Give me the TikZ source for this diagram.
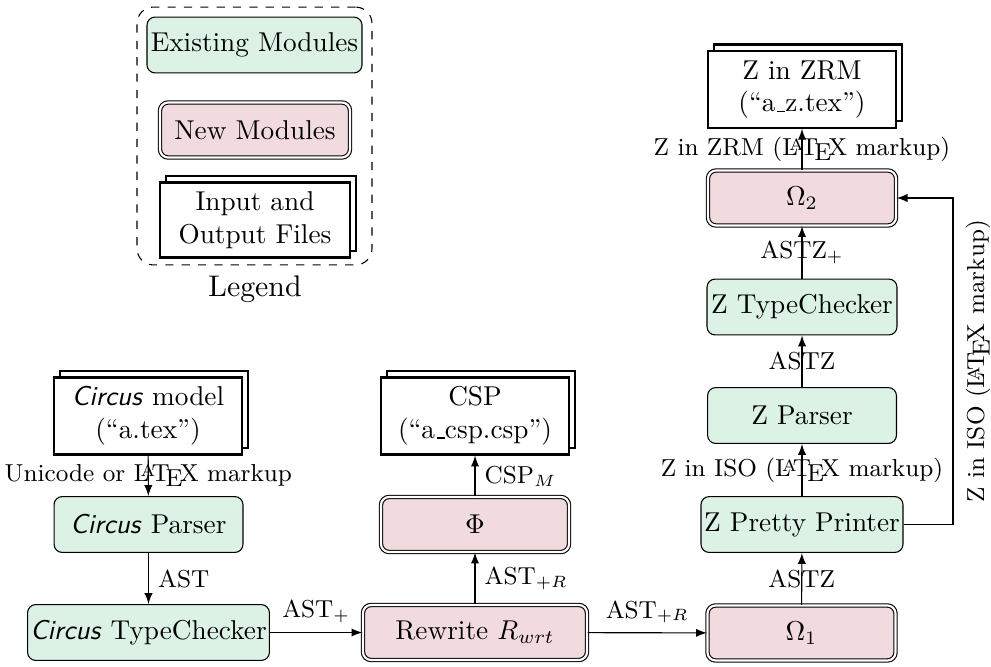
\documentclass[tikz,border=0pt]{standalone}
\usetikzlibrary{shadows,arrows}
\definecolor{modgreen}{RGB}{220,242,229}
\definecolor{modpink}{RGB}{242,219,222}
\newcommand{\CircusName}{\textsf{\textit{Circus}}}
% baseline rule used for underscores in file names
\newcommand{\ulbar}{\leavevmode\kern.06em\vbox{\hrule width.3em}}
\begin{document}
\begin{tikzpicture}[x=0.012887cm,y=-0.012887cm,
  oldmod/.style={draw, fill=modgreen, rounded corners=3pt, minimum height=20.5pt, inner xsep=1pt, align=center},
  newmod/.style={draw, double, double distance=0.8pt, fill=modpink, rounded corners=3pt, minimum height=20.2pt, inner xsep=1pt, align=center},
  iofile/.style={draw, thick, fill=white, minimum height=24.2pt, minimum width=69pt, inner xsep=1pt, align=center,
    copy shadow={shadow xshift=2.2pt, shadow yshift=2.5pt, draw, thick, fill=white}},
  flow/.style={-latex},
  edgelbl/.style={font=\small},
  onarrow/.style={edgelbl, midway, inner sep=1pt},
]
\useasboundingbox (0,0) rectangle (991,666);

% legend
\node[draw, dashed, rounded corners=6pt, minimum width=86.2pt, minimum height=94.6pt] (legendbox) at (254.5,136) {};
\node[oldmod, minimum width=78.9pt] (lgold) at (254.5,45) {Existing Modules};
\node[newmod, minimum width=69.7pt] (lgnew) at (255,130) {New Modules};
\node[iofile, minimum width=69.7pt] (lgio) at (255,220) {Input and\\Output Files};
\node[font=\fontsize{10.95}{13.6}\selectfont] (legendlabel) at (255,289) {Legend};

% Circus front end
\node[iofile] (cmodel) at (148,416) {\CircusName{} model\\(``a.tex'')};
\node[oldmod, minimum width=69.3pt] (cparser) at (148.5,524.5) {\CircusName{} Parser};
\node[oldmod, minimum width=88.4pt] (ctc) at (148.5,632.5) {\CircusName{} TypeChecker};

% rewriting and CSP translation
\node[newmod, minimum width=82.2pt] (rw) at (475,632.5) {Rewrite $R_{wrt}$};
\node[newmod, minimum width=69pt] (phi) at (475,524.5) {$\Phi$};
\node[iofile] (csp) at (475,416) {CSP\\(``a\ulbar csp.csp'')};

% Z pipeline
\node[newmod, minimum width=69pt] (o1) at (801.5,633) {$\Omega_1$};
\node[oldmod, minimum width=74.1pt] (zpp) at (802,524.5) {Z Pretty Printer};
\node[oldmod, minimum width=69.3pt] (zp) at (802,415.5) {Z Parser};
\node[oldmod, minimum width=69.7pt] (ztc) at (802,307) {Z TypeChecker};
\node[newmod, minimum width=69pt] (o2) at (802,198) {$\Omega_2$};
\node[iofile] (zrm) at (802,89.5) {Z in ZRM\\(``a\ulbar z.tex'')};

\coordinate (rail) at (953,0);

% connectors
\draw[flow] (cmodel) -- (cparser) node[onarrow] {Unicode or \LaTeX{} markup};
\draw[flow] (cparser) -- (ctc) node[edgelbl, midway, right] {AST};
\draw[flow] (ctc) -- (rw) node[edgelbl, midway, above] {AST$_+$};
\draw[flow] (rw) -- (phi) node[edgelbl, midway, right] {AST$_{+R}$};
\draw[flow] (phi) -- (csp) node[edgelbl, midway, right] {CSP$_M$};
\draw[flow] (rw) -- (o1) node[edgelbl, midway, above] {AST$_{+R}$};
\draw[flow] (o1) -- (zpp) node[onarrow] {ASTZ};
\draw[flow] (zpp) -- (zp) node[onarrow] {Z in ISO (\LaTeX{} markup)};
\draw[flow] (zp) -- (ztc) node[onarrow] {ASTZ};
\draw[flow] (ztc) -- (o2) node[onarrow] {ASTZ$_+$};
\draw[flow] (o2) -- (zrm) node[onarrow] {Z in ZRM (\LaTeX{} markup)};
\draw[flow] (zpp.east) -- (zpp.east -| rail) -- (o2.east -| rail)
  node[edgelbl, midway, rotate=90, anchor=north, inner sep=4.5pt] {Z in ISO (\LaTeX{} markup)} -- (o2.east);
\end{tikzpicture}
\end{document}
